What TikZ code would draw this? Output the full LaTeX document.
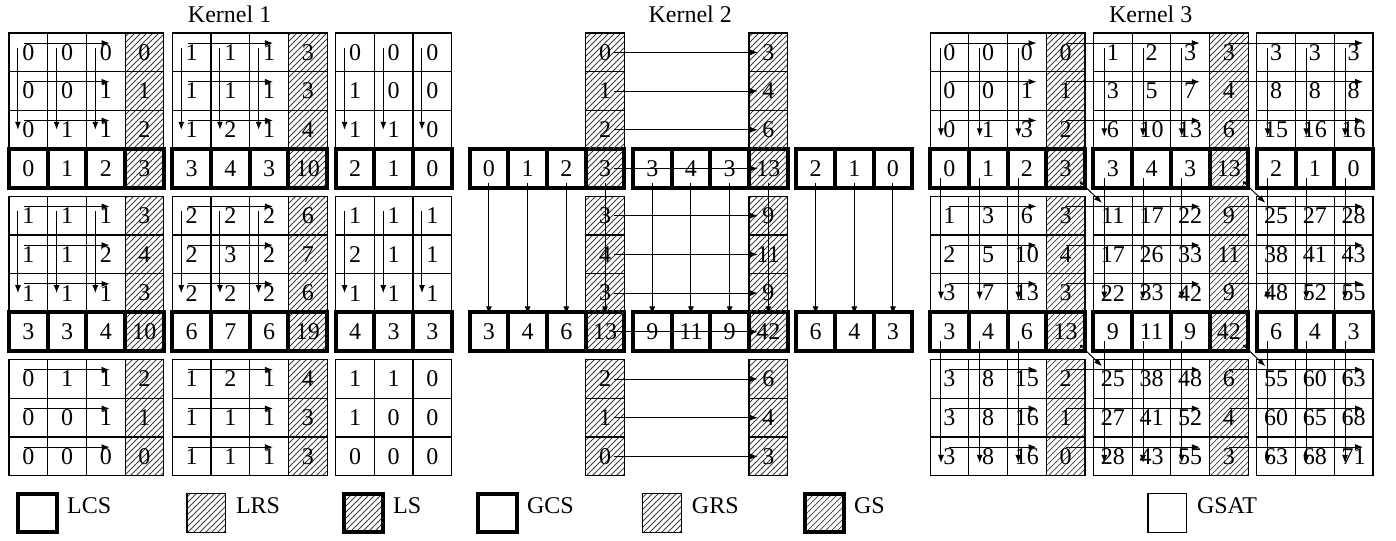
\documentclass[tikz,border=0pt]{standalone}
\usepackage{fontspec}
\setmainfont{Liberation Serif}
\usetikzlibrary{positioning,arrows.meta,patterns,calc}

\begin{document}
\begin{tikzpicture}[
  x=19.35pt, y=-19.35pt,
  every node/.style={font=\fontsize{12}{14}\selectfont},
  gridcell/.style={draw, line width=0.6pt, minimum size=19.35pt, inner sep=0pt, outer sep=0pt},
  cell00/.style={gridcell},
  cell10/.style={gridcell, pattern=north east lines, pattern color=black!75},
  cell01/.style={gridcell, line width=2pt},
  cell11/.style={gridcell, line width=2pt, pattern=north east lines, pattern color=black!75},
  legend/.style={inner sep=2pt},
  flow/.style={line width=0.5pt, -{Latex[length=4pt,width=3pt]}},
  carry/.style={line width=0.5pt, {Circle[open,length=1.6pt]}-{Latex[length=4pt,width=3pt]}}
]
\useasboundingbox (0,0) rectangle (36.07,13.953);

\node (title1) at (5.933,0.37) {Kernel 1};
\node (title2) at (17.833,0.37) {Kernel 2};
\node (title3) at (29.733,0.37) {Kernel 3};

% Kernel 1: local row / column sums
\foreach \m/\row in {0/{0,0,0,0,1,1,1,3,0,0,0}, 1/{0,0,1,1,1,1,1,3,1,0,0},
    2/{0,1,1,2,1,2,1,4,1,1,0}, 3/{0,1,2,3,3,4,3,10,2,1,0},
    4/{1,1,1,3,2,2,2,6,1,1,1}, 5/{1,1,2,4,2,3,2,7,2,1,1},
    6/{1,1,1,3,2,2,2,6,1,1,1}, 7/{3,3,4,10,6,7,6,19,4,3,3},
    8/{0,1,1,2,1,2,1,4,1,1,0}, 9/{0,0,1,1,1,1,1,3,1,0,0},
    10/{0,0,0,0,1,1,1,3,0,0,0}}
  \foreach \v [count=\n from 0] in \row {
    \pgfmathtruncatemacro\hs{mod(\n,4)==3}
    \pgfmathtruncatemacro\ts{mod(\m,4)==3}
    \node[cell\hs\ts] (loc-\m-\n) at ({0.733+\n+0.22*int(\n/4)},{1.353+\m+0.22*int(\m/4)}) {\v};
  }

\foreach \m in {0,1,2,4,5,6,8,9,10}
  \foreach \a/\b in {0/2,4/6}
    \draw[flow] ([shift={(-0.1,-0.24)}]loc-\m-\a.center) -- ([shift={(0.1,-0.24)}]loc-\m-\b.center);
\foreach \a/\b in {0/2,4/6}
  \foreach \n in {0,1,2,4,5,6,8,9,10}
    \draw[flow] ([shift={(-0.27,-0.11)}]loc-\a-\n.center) -- ([shift={(-0.27,0)}]loc-\b-\n.center);

% Kernel 2: global sums
\foreach \m/\row in {3/{0,1,2,3,3,4,3,13,2,1,0}, 7/{3,4,6,13,9,11,9,42,6,4,3}}
  \foreach \v [count=\n from 0] in \row {
    \pgfmathtruncatemacro\hs{mod(\n,4)==3}
    \node[cell\hs1] (glb-\m-\n) at ({12.633+\n+0.22*int(\n/4)},{1.353+\m+0.22*int(\m/4)}) {\v};
  }
\foreach \m/\a/\b in {0/0/3, 1/1/4, 2/2/6, 4/3/9, 5/4/11, 6/3/9, 8/2/6, 9/1/4, 10/0/3} {
  \node[cell10] (glb-\m-3) at (15.633,{1.353+\m+0.22*int(\m/4)}) {\a};
  \node[cell10] (glb-\m-7) at (19.853,{1.353+\m+0.22*int(\m/4)}) {\b};
}

\foreach \m in {0,...,10}
  \draw[flow] ([shift={(0.24,0)}]glb-\m-3.center) -- ([shift={(-0.27,0)}]glb-\m-7.center);
\foreach \n in {0,...,10}
  \draw[flow] ([shift={(0,0.37)}]glb-3-\n.center) -- ([shift={(0,-0.45)}]glb-7-\n.center);

% Kernel 3: global summed area table
\foreach \m/\row in {0/{0,0,0,0,1,2,3,3,3,3,3}, 1/{0,0,1,1,3,5,7,4,8,8,8},
    2/{0,1,3,2,6,10,13,6,15,16,16}, 3/{0,1,2,3,3,4,3,13,2,1,0},
    4/{1,3,6,3,11,17,22,9,25,27,28}, 5/{2,5,10,4,17,26,33,11,38,41,43},
    6/{3,7,13,3,22,33,42,9,48,52,55}, 7/{3,4,6,13,9,11,9,42,6,4,3},
    8/{3,8,15,2,25,38,48,6,55,60,63}, 9/{3,8,16,1,27,41,52,4,60,65,68},
    10/{3,8,16,0,28,43,55,3,63,68,71}}
  \foreach \v [count=\n from 0] in \row {
    \pgfmathtruncatemacro\hs{mod(\n,4)==3}
    \pgfmathtruncatemacro\ts{mod(\m,4)==3}
    \node[cell\hs\ts] (sat-\m-\n) at ({24.533+\n+0.22*int(\n/4)},{1.353+\m+0.22*int(\m/4)}) {\v};
  }

\foreach \m in {0,1,2,4,5,6,8,9,10}
  \foreach \a/\b in {0/2,3/6,7/10}
    \draw[flow] ([shift={(0,-0.24)}]sat-\m-\a.center) -- ([shift={(0.25,-0.24)}]sat-\m-\b.center);
\foreach \n in {0,1,2,4,5,6,8,9,10} {
  \draw[flow] ([shift={(-0.22,-0.11)}]sat-0-\n.center) -- ([shift={(-0.22,0.17)}]sat-2-\n.center);
  \foreach \a/\b in {3/6,7/10}
    \draw[flow] ([shift={(-0.22,0.25)}]sat-\a-\n.center) -- ([shift={(-0.22,0.17)}]sat-\b-\n.center);
}
\foreach \m/\n/\p/\q in {3/3/4/4, 3/7/4/8, 7/3/8/4, 7/7/8/8}
  \draw[carry] ([shift={(0.37,0.34)}]sat-\m-\n.center) -- ([shift={(-0.28,-0.33)}]sat-\p-\q.center);

% legend
\node[cell01] (lcs) at (0.965,13.256) {};
\node[legend] (lcstext) [below right=0pt and 3pt of lcs.north east] {LCS};
\node[cell10] (lrs) at (5.33,13.256) {};
\node[legend] (lrstext) [below right=0pt and 3pt of lrs.north east] {LRS};
\node[cell11] (ls) at (9.39,13.256) {};
\node[legend] (lstext) [below right=0pt and 3pt of ls.north east] {LS};
\node[cell01] (gcs) at (12.85,13.256) {};
\node[legend] (gcstext) [below right=0pt and 3pt of gcs.north east] {GCS};
\node[cell10] (grs) at (17.11,13.256) {};
\node[legend] (grstext) [below right=0pt and 3pt of grs.north east] {GRS};
\node[cell11] (gs) at (21.30,13.256) {};
\node[legend] (gstext) [below right=0pt and 3pt of gs.north east] {GS};
\node[cell00] (gsat) at (30.16,13.256) {};
\node[legend] (gsattext) [below right=0pt and 3pt of gsat.north east] {GSAT};
\end{tikzpicture}
\end{document}
